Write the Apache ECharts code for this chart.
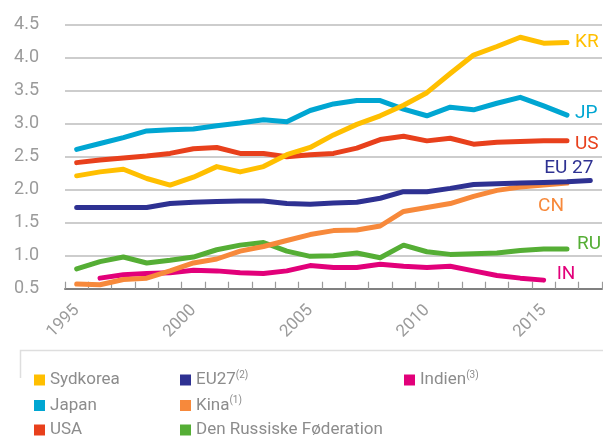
<!DOCTYPE html>
<html>
<head>
<meta charset="utf-8">
<script src="https://cdn.jsdelivr.net/npm/echarts@6/dist/echarts.min.js"></script>
<style>html,body{margin:0;padding:0;background:#fff;}#c{width:603px;height:439px;}</style>
</head>
<body>
<div id="c"></div>
<script>
const years = ['1995','1996','1997','1998','1999','2000','2001','2002','2003','2004','2005','2006','2007','2008','2009','2010','2011','2012','2013','2014','2015','2016','2017'];
const yTicks = [0.5, 1.0, 1.5, 2.0, 2.5, 3.0, 3.5, 4.0, 4.5];
const sydkorea = [2.21,2.27,2.31,2.17,2.07,2.19,2.35,2.27,2.35,2.53,2.64,2.83,2.99,3.12,3.28,3.47,3.76,4.04,4.17,4.31,4.22,4.23,null];
const japan    = [2.61,2.70,2.79,2.89,2.91,2.92,2.97,3.01,3.06,3.03,3.20,3.30,3.35,3.35,3.22,3.12,3.25,3.21,3.31,3.40,3.27,3.13,null];
const usa      = [2.41,2.45,2.48,2.51,2.55,2.62,2.64,2.55,2.55,2.50,2.53,2.55,2.63,2.76,2.81,2.74,2.78,2.69,2.72,2.73,2.74,2.74,null];
const eu27     = [1.73,1.73,1.73,1.73,1.79,1.81,1.82,1.83,1.83,1.79,1.78,1.80,1.81,1.87,1.97,1.97,2.02,2.08,2.09,2.10,2.11,2.12,2.14];
const kina     = [0.57,0.56,0.64,0.66,0.77,0.89,0.95,1.07,1.14,1.23,1.32,1.38,1.39,1.45,1.67,1.73,1.79,1.90,1.99,2.04,2.07,2.10,null];
const rusland  = [0.80,0.91,0.98,0.89,0.93,0.98,1.09,1.16,1.20,1.07,0.99,1.00,1.04,0.97,1.16,1.06,1.02,1.03,1.04,1.08,1.10,1.10,null];
const indien   = [null,0.66,0.71,0.73,0.74,0.78,0.77,0.74,0.73,0.77,0.85,0.82,0.82,0.87,0.84,0.82,0.84,0.77,0.70,0.66,0.63,null,null];

const FONT = 'Roboto, "Liberation Sans", sans-serif';

function lastIdx(arr){ for(let i=arr.length-1;i>=0;i--){ if(arr[i]!==null) return i; } return -1; }

function mk(name, arr, color, tag, pos, align, z){
  const li = lastIdx(arr);
  const data = arr.map((v,i)=> i===li ? {value:v, label:{show:true, formatter:tag, position:pos, align:align, verticalAlign:'middle', color:color, fontSize:19, fontFamily:FONT}} : v);
  return {
    name:name, type:'line', data:data, z:z,
    showSymbol:true, showAllSymbol:true, symbol:'circle', symbolSize:0,
    itemStyle:{color:color},
    lineStyle:{color:color, width:5, cap:'round', join:'round'},
    label:{show:false},
    emphasis:{disabled:true},
    silent:true
  };
}

const legendText = {color:'#8c8c8c', fontSize:17, fontFamily:FONT, lineHeight:20,
  rich:{n:{fontSize:17, color:'#8c8c8c', fontFamily:FONT, lineHeight:20},
        s:{fontSize:10, color:'#8c8c8c', fontFamily:FONT, verticalAlign:'top', lineHeight:12}}};
const legendFmt = function(name){
  const sup = {'EU27':'(2)','Kina':'(1)','Indien':'(3)'};
  return sup[name] ? '{n|'+name+'}{s|'+sup[name]+'}' : '{n|'+name+'}';
};
function lg(left, top, name){
  return {orient:'horizontal', left:left, top:top, padding:0, itemWidth:11, itemHeight:11, icon:'rect',
    selectedMode:false, data:[name], formatter:legendFmt, textStyle:legendText};
}

const chart = echarts.init(document.getElementById('c'), null, {renderer:'canvas'});
chart.setOption({
  animation:false,
  backgroundColor:'#fff',
  grid:{left:65, right:1, top:24.7, bottom:150.3, containLabel:false},
  xAxis:{type:'category', data:years, boundaryGap:true,
    axisLine:{show:true, lineStyle:{color:'#808080', width:2}},
    axisTick:{show:true, interval:0, inside:true, length:7, lineStyle:{color:'#9a9a9a', width:1.2}},
    axisLabel:{interval:4, rotate:45, margin:19, color:'#9b9b9b', fontSize:17, fontFamily:FONT},
    splitLine:{show:false}},
  yAxis:{type:'value', min:yTicks[0], max:yTicks[yTicks.length-1], interval:0.5,
    axisLine:{show:false}, axisTick:{show:false},
    axisLabel:{margin:26, color:'#9b9b9b', fontSize:18, fontFamily:FONT, formatter:v=>v.toFixed(1)},
    splitLine:{show:true, lineStyle:{color:'#bdbdbd', width:1.5}}},
  legend:[
    lg(34,370,'Sydkorea'), lg(34,395.5,'Japan'), lg(34,420,'USA'),
    lg(180,370,'EU27'), lg(180,395.5,'Kina'), lg(180,420,'Den Russiske Føderation'),
    lg(404,370,'Indien')
  ],
  graphic:[{type:'polyline', silent:true, shape:{points:[[20.5,378],[20.5,350.5],[603,350.5]]}, style:{stroke:'#dedede', lineWidth:1.5, fill:null}}],
  series:[
    mk('Den Russiske Føderation', rusland, '#55ae35', 'RU', [10,-5], 'left', 2),
    mk('Indien', indien, '#e2007a', 'IN', [13,-6], 'left', 3),
    mk('Kina', kina, '#f7893b', 'CN', [-3,23], 'right', 4),
    mk('EU27', eu27, '#2e3192', 'EU 27', [3,-12], 'right', 5),
    mk('USA', usa, '#e8401c', 'US', [8,3], 'left', 6),
    mk('Japan', japan, '#00a6d2', 'JP', [8,-2], 'left', 7),
    mk('Sydkorea', sydkorea, '#ffbf00', 'KR', [8,0], 'left', 8)
  ]
});
</script>
</body>
</html>
